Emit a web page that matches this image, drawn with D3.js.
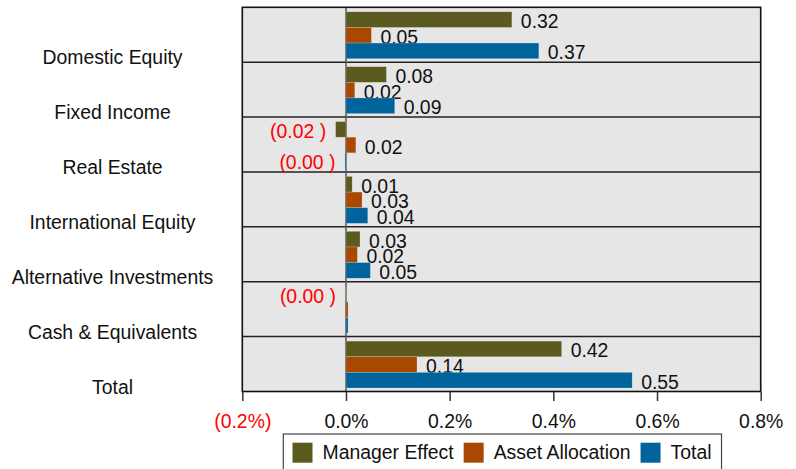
<!DOCTYPE html>
<html>
<head>
<meta charset="utf-8">
<script src="https://cdn.jsdelivr.net/npm/d3@7"></script>
<style>
  html, body { margin: 0; padding: 0; background: #fff; }
  svg { display: block; font-family: "Liberation Sans", Arial, sans-serif; }
</style>
</head>
<body>
<svg id="chart" width="796" height="469"></svg>
<script>
// ---- data ----
const categories = ["Domestic Equity", "Fixed Income", "Real Estate", "International Equity",
                    "Alternative Investments", "Cash & Equivalents", "Total"];
const seriesNames = ["Manager Effect", "Asset Allocation", "Total"];
const managerEffect   = [0.320, 0.078, -0.020, 0.012, 0.027, -0.001, 0.416];
const assetAllocation = [0.049, 0.017,  0.019, 0.031, 0.022,  0.004, 0.137];
const totalEffect     = [0.372, 0.094, -0.002, 0.042, 0.047,  0.004, 0.552];
const xTicks = [-0.2, 0, 0.2, 0.4, 0.6, 0.8];

const seriesValues = [managerEffect, assetAllocation, totalEffect];
const colors = ["#5b5a1f", "#a94800", "#00639b"];

// ---- layout ----
const svg = d3.select("#chart");
const plot = { left: 242.3, right: 760.7, top: 7.3, bottom: 391.5 };
const FS = 19.4;

const x = d3.scaleLinear().domain([-0.2, 0.8]).range([plot.left, plot.right]);
const y = d3.scaleBand().domain(categories).range([plot.top, plot.bottom]).padding(0);
const ySub = d3.scaleBand().domain(seriesNames).range([4.5, y.bandwidth() - 3.5]).padding(0);

// background
svg.append("rect")
  .attr("x", plot.left).attr("y", plot.top)
  .attr("width", plot.right - plot.left).attr("height", plot.bottom - plot.top)
  .attr("fill", "#e6e6e6");

// row separators
svg.append("g").selectAll("line")
  .data(categories.slice(1))
  .join("line")
  .attr("x1", plot.left).attr("x2", plot.right)
  .attr("y1", d => y(d)).attr("y2", d => y(d))
  .attr("stroke", "#222").attr("stroke-width", 1.5);

// category labels (drawn near the bottom of each row)
svg.append("g").selectAll("text")
  .data(categories)
  .join("text")
  .attr("x", 112.5)
  .attr("y", d => y(d) + y.bandwidth() - 4.5)
  .attr("dy", "0.35em")
  .attr("text-anchor", "middle")
  .attr("font-size", FS)
  .attr("fill", "#111")
  .text(d => d);

function fmt(v) {
  if (v < 0) return "(" + Math.abs(v).toFixed(2) + " )";
  if (Math.abs(v) < 0.005) return "";
  return v.toFixed(2);
}

// zero line
svg.append("line")
  .attr("x1", x(0)).attr("x2", x(0))
  .attr("y1", plot.top).attr("y2", plot.bottom)
  .attr("stroke", "#555").attr("stroke-width", 1.5);

// bars and labels, series by series
seriesValues.forEach((vals, si) => {
  const g = svg.append("g");
  const name = seriesNames[si];
  g.selectAll("rect")
    .data(vals)
    .join("rect")
    .attr("x", v => x(Math.min(0, v)))
    .attr("width", v => Math.abs(x(v) - x(0)))
    .attr("y", (v, i) => y(categories[i]) + ySub(name))
    .attr("height", ySub.bandwidth())
    .attr("fill", colors[si])
    .attr("stroke", "rgba(255,255,255,0.3)")
    .attr("stroke-width", 0.6);
  g.selectAll("text")
    .data(vals)
    .join("text")
    .attr("x", v => v < 0 ? x(v) - 9.5 : x(v) + 9)
    .attr("y", (v, i) => y(categories[i]) + ySub(name) + ySub.bandwidth() / 2 + 8.5)
    .attr("text-anchor", v => v < 0 ? "end" : "start")
    .attr("font-size", FS)
    .attr("fill", v => v < 0 ? "#ff0000" : "#111")
    .text(v => fmt(v));
});

// plot border
svg.append("rect")
  .attr("x", plot.left).attr("y", plot.top)
  .attr("width", plot.right - plot.left).attr("height", plot.bottom - plot.top)
  .attr("fill", "none").attr("stroke", "#111").attr("stroke-width", 1.6);

// x axis
const xAxis = d3.axisBottom(x)
  .tickValues(xTicks)
  .tickSize(9.5)
  .tickPadding(13)
  .tickFormat(d => d < 0 ? "(" + Math.abs(d).toFixed(1) + "%)" : d.toFixed(1) + "%");
const ax = svg.append("g")
  .attr("transform", `translate(0,${plot.bottom})`)
  .call(xAxis);
ax.select(".domain").remove();
ax.selectAll(".tick line").attr("stroke", "#333").attr("stroke-width", 1.5);
ax.selectAll(".tick text")
  .attr("font-size", FS)
  .attr("font-family", "\"Liberation Sans\", Arial, sans-serif")
  .attr("fill", d => d < 0 ? "#ff0000" : "#111");

// legend
const leg = svg.append("g");
const legBox = leg.append("rect")
  .attr("y", 434).attr("height", 50)
  .attr("fill", "#fff").attr("stroke", "#444").attr("stroke-width", 1.2);
let cx = 292.5;
seriesNames.forEach((name, i) => {
  leg.append("rect")
    .attr("x", cx).attr("y", 442.7)
    .attr("width", 20).attr("height", 20)
    .attr("fill", colors[i]);
  const t = leg.append("text")
    .attr("x", cx + 30).attr("y", 452.7)
    .attr("dy", "0.35em")
    .attr("font-size", FS)
    .attr("fill", "#111")
    .text(name);
  cx = cx + 30 + t.node().getComputedTextLength() + 10;
});
legBox.attr("x", 283.3).attr("width", cx - 283.3);
</script>
</body>
</html>
